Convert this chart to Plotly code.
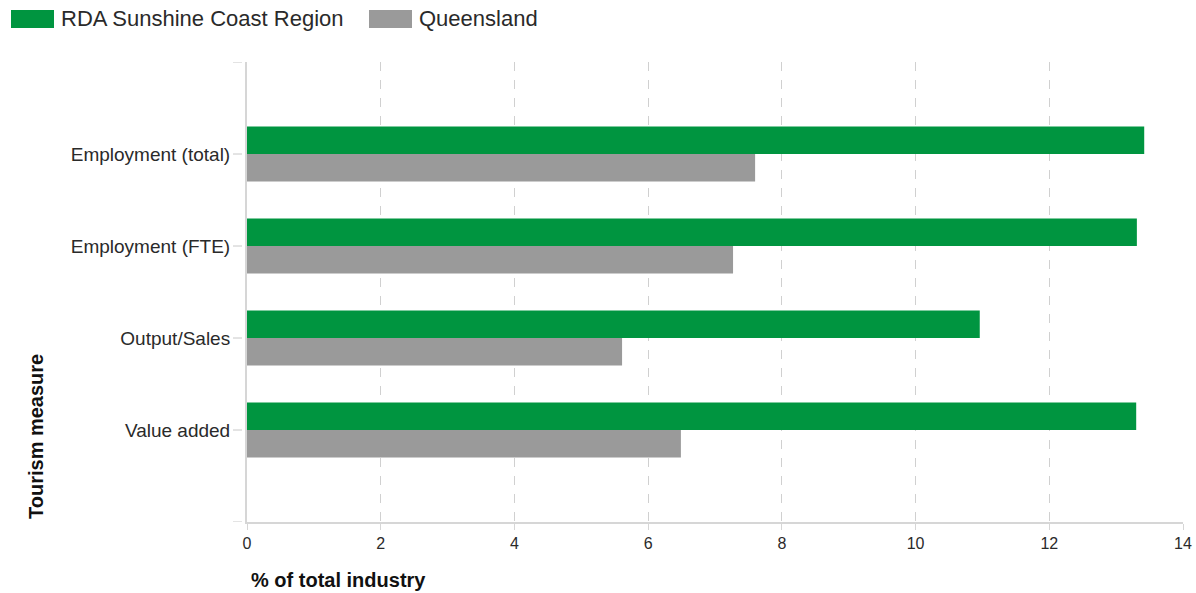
import plotly.graph_objects as go

# Tourism share of total industry, by measure
measures = ["Employment (total)", "Employment (FTE)", "Output/Sales", "Value added"]
region_name = "RDA Sunshine Coast Region"
state_name = "Queensland"
region_values = [13.42, 13.31, 10.96, 13.30]
state_values = [7.60, 7.27, 5.61, 6.49]
x_ticks = [0, 2, 4, 6, 8, 10, 12, 14]

GREEN = "#009540"
GREY = "#9a9a9a"
FONT = "Liberation Sans, Arial, sans-serif"
TEXT = "#2a2a2a"

W, H = 1196, 593
L, R, T, B = 247, 13, 62, 71
PW, PH = W - L - R, H - T - B


def px_x(p):
    return (p - L) / PW


def px_y(p):
    return (H - B - p) / PH


fig = go.Figure()
fig.add_trace(go.Bar(y=measures, x=region_values, name=region_name,
                     orientation="h", marker=dict(color=GREEN, line=dict(width=0))))
fig.add_trace(go.Bar(y=measures, x=state_values, name=state_name,
                     orientation="h", marker=dict(color=GREY, line=dict(width=0))))

shapes = []
# dashed tick marks on the category axis (band edges and category centres)
for v in [-1] + list(range(len(measures))) + [len(measures)]:
    shapes.append(dict(type="line", xref="paper", yref="y",
                       x0=px_x(233), x1=0, y0=v, y1=v,
                       line=dict(color="#c8c8c8", width=1, dash="dash")))

# legend swatches
annotations = []
legend_items = [(region_name, GREEN, 11, 54, 59), (state_name, GREY, 369, 412, 417)]
for name, col, sx0, sx1, tx in legend_items:
    shapes.append(dict(type="rect", xref="paper", yref="paper",
                       x0=px_x(sx0), x1=px_x(sx1), y0=px_y(28), y1=px_y(10),
                       fillcolor=col, line=dict(width=0)))
    annotations.append(dict(text=name, xref="paper", yref="paper",
                            x=px_x(tx), y=px_y(19), xanchor="left", yanchor="middle",
                            showarrow=False, font=dict(family=FONT, size=22, color=TEXT)))

annotations.append(dict(text="<b>% of total industry</b>", xref="paper", yref="paper",
                        x=px_x(249), y=px_y(580), xanchor="left", yanchor="middle",
                        showarrow=False, font=dict(family=FONT, size=20, color="#111111")))
annotations.append(dict(text="<b>Tourism measure</b>", xref="paper", yref="paper",
                        x=px_x(36), y=px_y(437), xanchor="center", yanchor="middle",
                        textangle=-90, showarrow=False,
                        font=dict(family=FONT, size=20, color="#111111")))

fig.update_layout(
    width=W, height=H, autosize=False,
    margin=dict(l=L, r=R, t=T, b=B, pad=0),
    paper_bgcolor="white", plot_bgcolor="white",
    barmode="group", bargap=0.4, bargroupgap=0,
    showlegend=False,
    font=dict(family=FONT, color=TEXT),
    shapes=shapes, annotations=annotations,
    xaxis=dict(range=[0, 14], tickvals=x_ticks, showgrid=True, automargin=False,
               gridcolor="#d0d0d0", griddash="dash", gridwidth=1,
               showline=True, linecolor="#d6d6d6", linewidth=2,
               ticks="outside", ticklen=6, tickcolor="#d6d6d6",
               zeroline=False, tickfont=dict(family=FONT, size=16, color=TEXT)),
    yaxis=dict(type="category", categoryorder="array", categoryarray=measures,
               range=[len(measures), -1], showgrid=False, automargin=False,
               showline=True, linecolor="#d6d6d6", linewidth=2,
               ticks="outside", ticklen=11, tickcolor="rgba(0,0,0,0)",
               zeroline=False, tickfont=dict(family=FONT, size=19, color=TEXT)),
)

fig.write_html("out.html", config={"responsive": False})
